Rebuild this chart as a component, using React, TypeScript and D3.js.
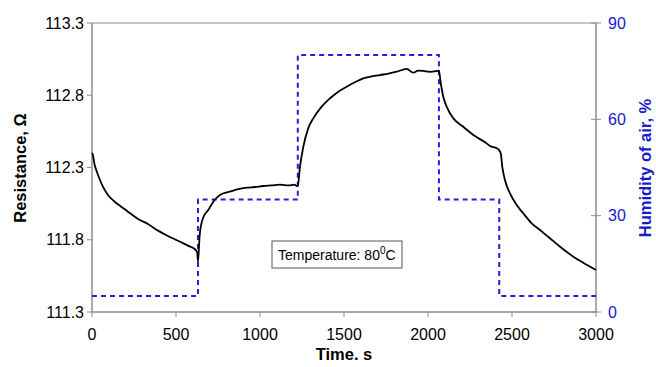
import React from "react";
import * as d3 from "d3";

const timeS = [0, 2, 16, 36, 65, 95, 135, 174, 214, 274, 333, 393, 452, 512, 571, 611, 626, 631, 641, 661, 692, 722, 762, 821, 870, 921, 970, 1020, 1070, 1119, 1170, 1205, 1220, 1226, 1238, 1258, 1287, 1317, 1367, 1417, 1466, 1516, 1565, 1615, 1665, 1714, 1765, 1814, 1873, 1913, 1940, 1972, 2010, 2052, 2065, 2076, 2091, 2111, 2151, 2210, 2270, 2349, 2369, 2409, 2420, 2433, 2442, 2458, 2488, 2528, 2567, 2617, 2667, 2726, 2786, 2865, 2924, 3000];
const resistance = [112.4, 112.398, 112.317, 112.248, 112.167, 112.11, 112.063, 112.029, 111.994, 111.944, 111.909, 111.863, 111.826, 111.793, 111.759, 111.736, 111.713, 111.648, 111.833, 111.951, 112.006, 112.063, 112.11, 112.133, 112.15, 112.16, 112.165, 112.172, 112.176, 112.181, 112.176, 112.181, 112.172, 112.18, 112.306, 112.444, 112.571, 112.64, 112.721, 112.779, 112.825, 112.859, 112.89, 112.917, 112.93, 112.94, 112.95, 112.963, 112.982, 112.956, 112.97, 112.968, 112.962, 112.968, 112.971, 112.883, 112.79, 112.721, 112.64, 112.582, 112.525, 112.467, 112.449, 112.433, 112.425, 112.398, 112.306, 112.213, 112.121, 112.04, 111.983, 111.914, 111.867, 111.81, 111.752, 111.683, 111.641, 111.591];

const humTime = [0, 631, 631, 1225, 1225, 2065, 2065, 2424, 2424, 3000];
const humidity = [5, 5, 35, 35, 80, 80, 35, 35, 5, 5];

const xTicks = [0, 500, 1000, 1500, 2000, 2500, 3000];
const leftTicks = [111.3, 111.8, 112.3, 112.8, 113.3];
const rightTicks = [0, 30, 60, 90];

const W = 656, H = 367;
const L = 92, R = 596, T = 23, B = 312;
const BLUE = "#1a1acc";
const GREY = "#8c8c8c";
const FONT = "'Liberation Sans', Arial, sans-serif";
const TF = 16;

export default function App() {
  const x = d3.scaleLinear().domain([0, 3000]).range([L, R]);
  const yL = d3.scaleLinear().domain([111.3, 113.3]).range([B, T]);
  const yR = d3.scaleLinear().domain([0, 90]).range([B, T]);

  const resLine = d3.line<number>().x((_, i) => x(timeS[i])).y((d) => yL(d)).curve(d3.curveMonotoneX)(resistance) || "";
  const humLine = d3.line<number>().x((_, i) => x(humTime[i])).y((d) => yR(d))(humidity) || "";

  return (
    <svg width={W} height={H} style={{ position: "absolute", left: 0, top: 0, background: "#fff" }} fontFamily={FONT}>
      <rect x={0} y={0} width={W} height={H} fill="#fff" />
      <line x1={L} y1={T} x2={R} y2={T} stroke={GREY} strokeWidth={1} />
      <line x1={L} y1={T} x2={L} y2={B} stroke={GREY} strokeWidth={1.5} />
      <line x1={R} y1={T} x2={R} y2={B} stroke={GREY} strokeWidth={1.5} />
      <line x1={L} y1={B} x2={R} y2={B} stroke={GREY} strokeWidth={1.5} />
      {xTicks.map((t) => (
        <g key={"x" + t}>
          <line x1={x(t)} y1={B} x2={x(t)} y2={B + 5} stroke={GREY} />
          <text x={x(t)} y={B + 28} textAnchor="middle" fontSize={TF} fill="#000">{t}</text>
        </g>
      ))}
      {leftTicks.map((t) => (
        <g key={"l" + t}>
          <line x1={L - 5} y1={yL(t)} x2={L} y2={yL(t)} stroke={GREY} />
          <text x={L - 8} y={yL(t) + 5.7} textAnchor="end" fontSize={TF} fill="#000">{t.toFixed(1)}</text>
        </g>
      ))}
      {rightTicks.map((t) => (
        <g key={"r" + t}>
          <line x1={R - 5} y1={yR(t)} x2={R + 5} y2={yR(t)} stroke={GREY} />
          <text x={R + 12} y={yR(t) + 5.7} textAnchor="start" fontSize={TF} fill={BLUE}>{t}</text>
        </g>
      ))}
      <path d={humLine} fill="none" stroke="#1f1fdd" strokeWidth={2} strokeDasharray="5,4" />
      <path d={resLine} fill="none" stroke="#000" strokeWidth={1.8} strokeLinejoin="round" />
      <rect x={272} y={241} width={130} height={27} fill="#fff" stroke="#555" strokeWidth={1} />
      <text x={278} y={260} fontSize={14} fill="#000">
        Temperature: 80<tspan dy={-6} fontSize={10}>0</tspan><tspan dy={6}>C</tspan>
      </text>
      <text x={344} y={360} textAnchor="middle" fontSize={16.5} fontWeight="bold" fill="#000">Time. s</text>
      <text transform={`translate(26,168) rotate(-90)`} textAnchor="middle" fontSize={16.5} fontWeight="bold" fill="#000">Resistance, Ω</text>
      <text transform={`translate(651,168) rotate(-90)`} textAnchor="middle" fontSize={16.5} fontWeight="bold" fill={BLUE}>Humidity of air, %</text>
    </svg>
  );
}
